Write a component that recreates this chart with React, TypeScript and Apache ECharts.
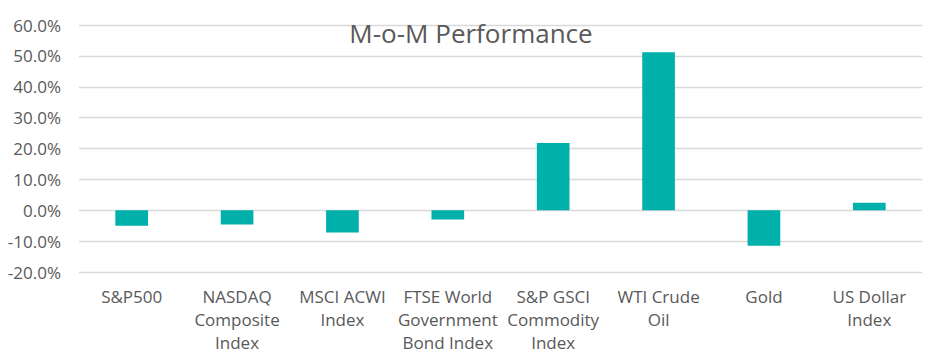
import React, { useEffect, useRef } from "react";
import * as echarts from "echarts";

const categories = [
  "S&P500",
  "NASDAQ\nComposite\nIndex",
  "MSCI ACWI\nIndex",
  "FTSE World\nGovernment\nBond Index",
  "S&P GSCI\nCommodity\nIndex",
  "WTI Crude\nOil",
  "Gold",
  "US Dollar\nIndex",
];
const momValues = [-5.0, -4.6, -7.2, -3.0, 21.8, 51.2, -11.5, 2.4];
const yMin = -20;
const yMax = 60;
const yStep = 10;
const titleText = "M-o-M Performance";

export default function App() {
  const ref = useRef<HTMLDivElement>(null);
  useEffect(() => {
    if (!ref.current) return;
    const chart = echarts.init(ref.current, undefined, { renderer: "svg" });
    const font = "Open Sans";
    chart.setOption({
      animation: false,
      backgroundColor: "#ffffff",
      title: {
        text: titleText,
        left: "center",
        top: 15,
        textStyle: { fontFamily: font, fontSize: 26, fontWeight: "normal", color: "#595959" },
      },
      grid: { left: 79, right: 20, top: 25, bottom: 85, containLabel: false },
      xAxis: {
        type: "category",
        data: categories,
        axisLine: { show: false },
        axisTick: { show: false },
        axisLabel: {
          interval: 0,
          margin: 13,
          fontFamily: font,
          fontSize: 17,
          lineHeight: 23,
          color: "#595959",
        },
      },
      yAxis: {
        type: "value",
        min: yMin,
        max: yMax,
        interval: yStep,
        axisLine: { show: false },
        axisTick: { show: false },
        splitLine: { lineStyle: { color: "#d9d9d9", width: 1.3 } },
        axisLabel: {
          margin: 18,
          fontFamily: font,
          fontSize: 17,
          color: "#595959",
          formatter: (v: number) => v.toFixed(1) + "%",
        },
      },
      series: [
        {
          type: "bar",
          data: momValues,
          barWidth: "31%",
          itemStyle: { color: "#00B0AA" },
        },
      ],
    });
    return () => chart.dispose();
  }, []);
  return (
    <div
      style={{
        position: "fixed",
        left: 0,
        top: 0,
        width: 942,
        height: 357,
        boxSizing: "border-box",
        border: "1px solid #d9d9d9",
        borderRadius: 3,
        background: "#fff",
      }}
    >
      <div ref={ref} style={{ position: "absolute", left: -1, top: -1, width: 942, height: 357 }} />
    </div>
  );
}
